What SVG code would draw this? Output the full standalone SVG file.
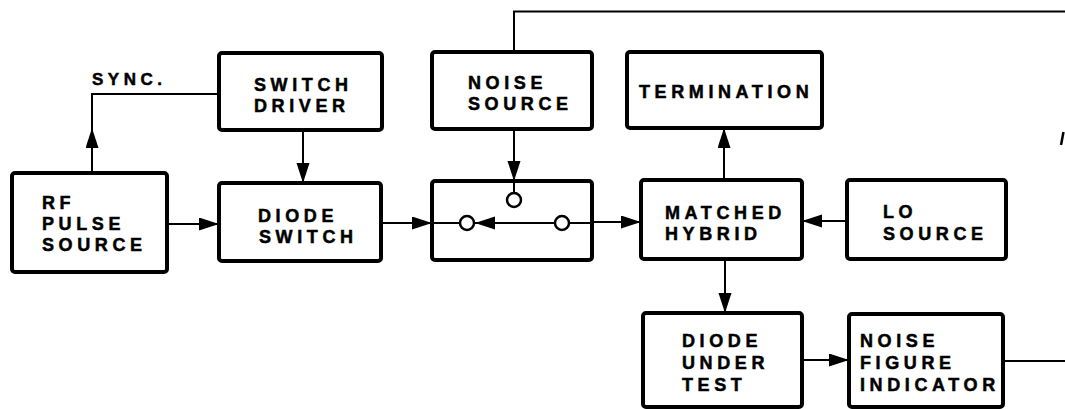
<svg xmlns="http://www.w3.org/2000/svg" width="1065" height="409" viewBox="0 0 1065 409">
<style>
.box{fill:#fff;stroke:#000;stroke-width:4}
.t{font-family:"Liberation Sans",Arial,sans-serif;font-weight:bold;font-size:18px;letter-spacing:4.6px;fill:#000;stroke:#000;stroke-width:0.5}
.c{fill:none;stroke:#000;stroke-width:2}
.a{fill:none;stroke:#000;stroke-width:2;marker-end:url(#ah)}
.k{fill:#fff;stroke:#000;stroke-width:2.5}
</style>
<defs>
<marker id="ah" markerUnits="userSpaceOnUse" markerWidth="21" markerHeight="14" refX="20" refY="6.5" orient="auto">
<path d="M0,0 L20,6.5 L0,13 z" fill="#000"/>
</marker>
</defs>
<rect width="1065" height="409" fill="#fff"/>
<g id="connectors">
<path class="a" d="M92,173 V128"/>
<path class="c" d="M92,130 V94 H219"/>
<text class="t" x="92" y="85" style="font-size:17px;letter-spacing:4.5px">SYNC.</text>
<path class="a" d="M303,130 V183"/>
<path class="a" d="M167,224 H219"/>
<path class="a" d="M381,223 H432"/>
<path class="a" d="M514,129 V181"/>
<path class="a" d="M592,222 H641"/>
<path class="a" d="M724,180 V128"/>
<path class="a" d="M847,221 H802"/>
<path class="a" d="M725,259 V313"/>
<path class="a" d="M802,360 H849"/>
<path class="c" d="M1003,361 H1065"/>
<path class="c" d="M514,52 V11.5 H1065"/>
<path d="M1061,145 L1063.5,132" stroke="#000" stroke-width="2.5" fill="none"/>
</g>
<g id="rf_pulse_source">
<rect class="box" x="12" y="173" width="155" height="99" rx="3"/>
<text class="t" x="42" y="209">RF</text>
<text class="t" x="42" y="230">PULSE</text>
<text class="t" x="42" y="251">SOURCE</text>
</g>
<g id="switch_driver">
<rect class="box" x="219" y="53" width="163" height="77" rx="3"/>
<text class="t" x="254" y="91">SWITCH</text>
<text class="t" x="254" y="112">DRIVER</text>
</g>
<g id="diode_switch">
<rect class="box" x="219" y="183" width="162" height="78" rx="3"/>
<text class="t" x="258" y="222">DIODE</text>
<text class="t" x="259" y="243">SWITCH</text>
</g>
<g id="noise_source">
<rect class="box" x="432" y="52" width="160" height="77" rx="3"/>
<text class="t" x="468" y="89">NOISE</text>
<text class="t" x="468" y="110">SOURCE</text>
</g>
<g id="switch">
<rect class="box" x="432" y="181" width="160" height="79" rx="3"/>
<path class="c" d="M432,223 H460"/>
<path class="a" d="M555,223 H475"/>
<path class="c" d="M569,223 H592"/>
<path class="c" d="M514,181 V193"/>
<circle class="k" cx="514" cy="200" r="7"/>
<circle class="k" cx="467" cy="223" r="7"/>
<circle class="k" cx="562" cy="223" r="7"/>
</g>
<g id="termination">
<rect class="box" x="627" y="52" width="195" height="76" rx="3"/>
<text class="t" x="639" y="98">TERMINATION</text>
</g>
<g id="matched_hybrid">
<rect class="box" x="641" y="180" width="161" height="79" rx="3"/>
<text class="t" x="665" y="219">MATCHED</text>
<text class="t" x="665" y="240">HYBRID</text>
</g>
<g id="lo_source">
<rect class="box" x="847" y="180" width="159" height="79" rx="3"/>
<text class="t" x="883" y="218">LO</text>
<text class="t" x="883" y="240">SOURCE</text>
</g>
<g id="diode_under_test">
<rect class="box" x="643" y="313" width="159" height="94" rx="3"/>
<text class="t" x="682" y="347">DIODE</text>
<text class="t" x="682" y="369">UNDER</text>
<text class="t" x="682" y="391">TEST</text>
</g>
<g id="noise_figure_indicator">
<rect class="box" x="849" y="314" width="154" height="93" rx="3"/>
<text class="t" x="860" y="347">NOISE</text>
<text class="t" x="860" y="369">FIGURE</text>
<text class="t" x="860" y="391">INDICATOR</text>
</g>
</svg>
